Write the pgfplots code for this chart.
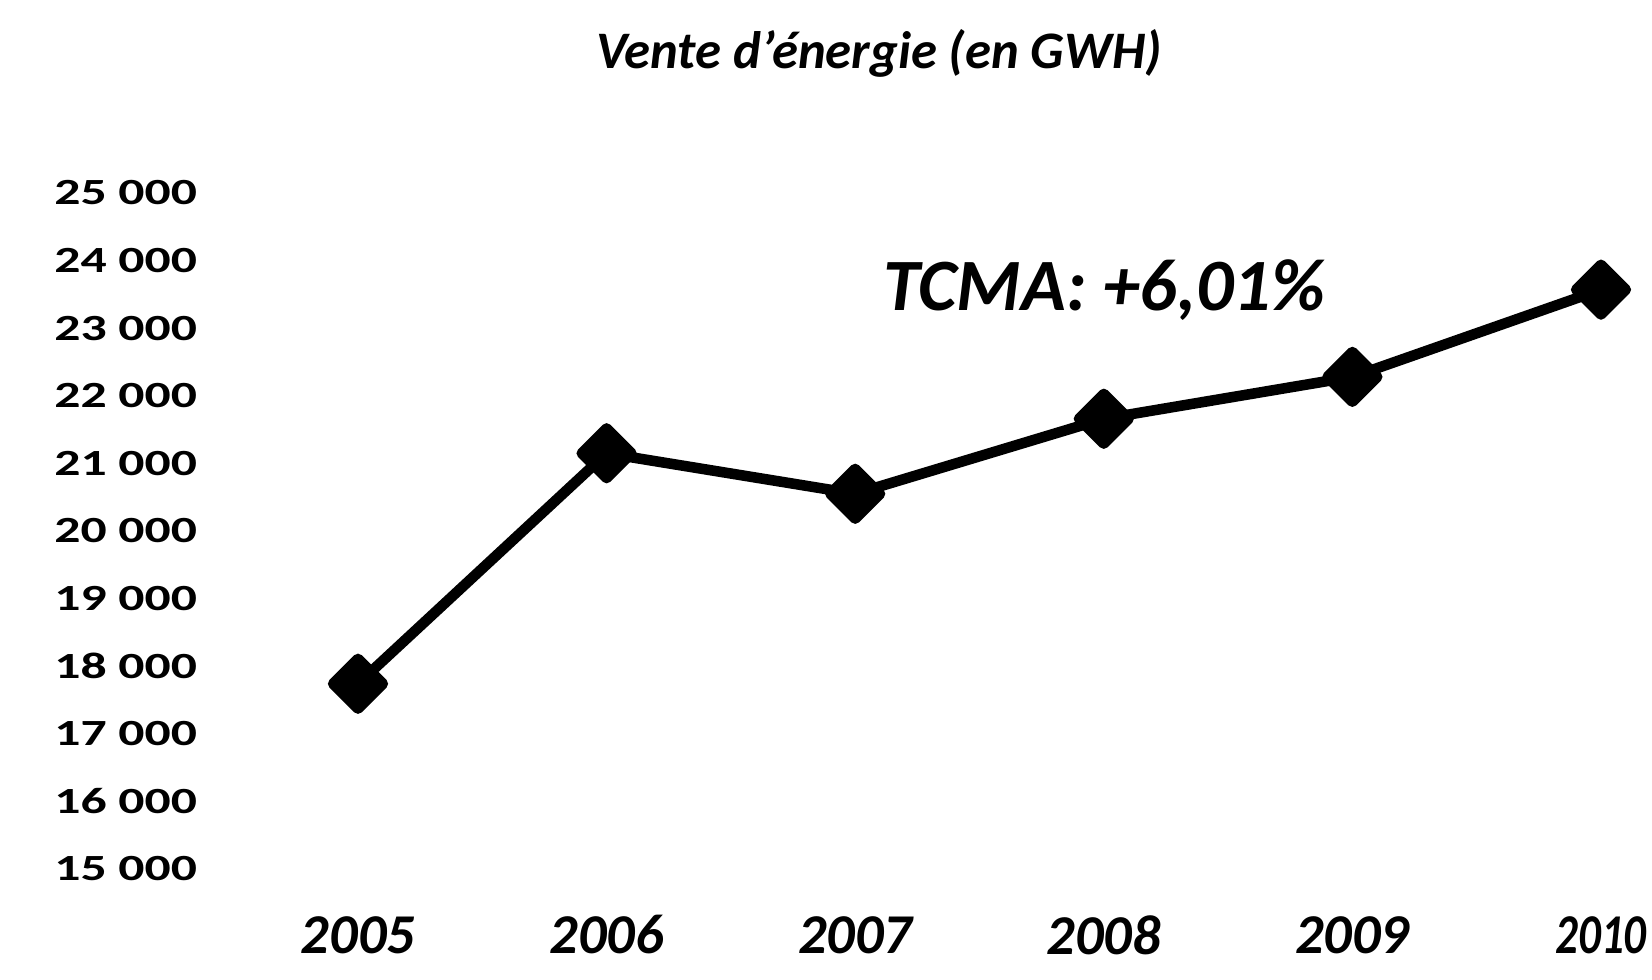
\documentclass[border=0pt]{standalone}
\usepackage{fontspec}
\usepackage{graphicx}
\setmainfont{Carlito}
\newfontfamily\ytickfont[FakeStretch=1.4]{Carlito}
\usepackage{pgfplots}
\pgfplotsset{compat=1.18}
\begin{document}
\begin{tikzpicture}
\begin{axis}[
  at={(2.337cm,1.10cm)}, anchor=south west,
  scale only axis, width=14.17cm, height=6.76cm,
  xmin=-0.5, xmax=5.2, ymin=15000, ymax=25000,
  clip=false, scaled y ticks=false,
  axis line style={draw=none},
  major tick length=0pt, minor tick length=0pt,
  xtick={0,1,2,3,4,5},
  xticklabels={2005,2006,2007,2008,2009,{\scalebox{0.8}[1]{2010}}},
  ytick={15000,16000,17000,18000,19000,20000,21000,22000,23000,24000,25000},
  yticklabels={15 000,16 000,17 000,18 000,19 000,20 000,21 000,22 000,23 000,24 000,25 000},
  xticklabel style={font=\fontsize{16}{18}\selectfont\bfseries\itshape, anchor=center, yshift=-6.6mm},
  yticklabel style={font=\ytickfont\fontsize{10.5}{12}\selectfont\bfseries, anchor=east, inner sep=0pt, xshift=-3.6mm},
]
\addplot[black, line width=3pt, line join=round, mark=square*, mark size=5pt, mark options={rotate=45, solid}]
  coordinates {(0,17740) (1,21150) (2,20550) (3,21660) (4,22280) (5,23570)};
\end{axis}
\node[font=\fontsize{15}{17}\selectfont\bfseries\itshape] at (8.79cm,9.26cm) {Vente d'énergie (en GWH)};
\node[font=\fontsize{21}{24}\selectfont\bfseries\itshape] at (11.04cm,6.89cm) {TCMA: +6,01\%};
\pgfresetboundingbox
\path[use as bounding box] (0,0) rectangle (16.52cm,9.79cm);
\end{tikzpicture}
\end{document}
